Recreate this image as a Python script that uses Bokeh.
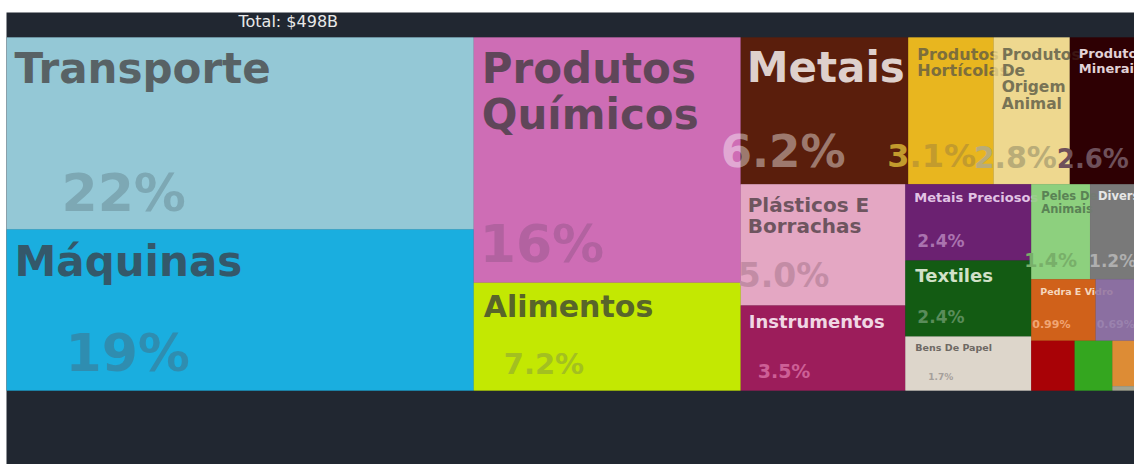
from bokeh.plotting import figure
from bokeh.models import Range1d
from bokeh.core.properties import value
from bokeh.embed import file_html
from bokeh.resources import INLINE

# ---------------- data ----------------
categories = ["Transporte", "Máquinas", "Produtos Químicos", "Alimentos", "Metais",
              "Produtos Hortícolas", "Produtos De Origem Animal", "Produtos Minerais",
              "Plásticos E Borrachas", "Instrumentos", "Metais Preciosos", "Textiles",
              "Bens De Papel", "Peles De Animais", "Diversos", "Pedra E Vidro",
              "Armas", "Produtos De Madeira", "Calçados E Chapéus",
              "Óleos Animais E Vegetais", "Arte E Antiguidades"]
shares = [22.45, 18.85, 16.4, 7.2, 6.16, 3.14, 2.8, 2.6, 5.0, 3.5, 2.4, 2.4, 1.7,
          1.4, 1.2, 0.99, 0.69, 0.54, 0.47, 0.32, 0.03]
total_label = "Total: $498B"

# ---------------- styles ----------------
BG = "#212731"
tile_colors = ["#94C8D6", "#1BAEDF", "#CE6DB4", "#C3E802", "#5A1E0C", "#E8B620",
               "#EED88F", "#2E0004", "#E4A7C3", "#9C1D5B", "#6B2171", "#135B14",
               "#DDD6CB", "#8DCF7E", "#797979", "#D0611B", "#8B6FA1", "#A80306",
               "#35A620", "#DD8C36", "#A3A38F"]

# nesting of the squarified layout (indices into categories)
TREE = ("h", [("v", [0, 1]), ("v", [2, 3]),
              ("v", [("h", [4, 5, 6, 7]),
                     ("h", [("v", [8, 9]), ("v", [10, 11, 12]),
                            ("v", [("h", [13, 14]), ("h", [15, 16]),
                                   ("h", [17, 18, ("v", [19, 20])])])])])])

# label style per tile: sizes (px), offsets from tile top-left to the baseline (px), colours
STYLE = {
    0: dict(ls=42, ldx=8, ldy=47, lc="#586265", ps=52, pdx=55, pdy=175, pc="#7DA8B4"),
    1: dict(ls=42, ldx=8, ldy=48, lc="#34586A", ps=52, pdx=59, pdy=143, pc="#2F8DB0"),
    2: dict(ls=42, ldx=8, ldy=47, lh=46, wrap=[1, 1], lc="#5F4659", ps=52, pdx=6, pdy=226, pc="#B262A0"),
    3: dict(ls=30, ldx=10, ldy=35, lc="#58652A", ps=29, pdx=30, pdy=92, pc="#A3C020"),
    4: dict(ls=42, ldx=6, ldy=46, lc="#DED0CC", ps=45, pdx=-20, pdy=131, pc="#FFFFFF", pa=0.42),
    5: dict(ls=16, ldx=9, ldy=23, lh=16, wrap=[1, 1], lc="#7D6E3C", ps=32, pdx=-21, pdy=131, pc="#C39B2D"),
    6: dict(ls=15.5, ldx=8, ldy=23, lh=16.3, wrap=[1, 1, 1, 1], lc="#787355", ps=30, pdx=-20, pdy=131, pc="#B9AC78"),
    7: dict(ls=13, ldx=9, ldy=21, lh=14.5, wrap=[1, 1], lc="#E1D2D7", ps=26, pdx=-13, pdy=131, pc="#6E505A"),
    8: dict(ls=20, ldx=7, ldy=28, lh=21, wrap=[2, 1], lc="#6E555F", ps=33, pdx=-3, pdy=104, pc="#C38CA5"),
    9: dict(ls=18, ldx=8, ldy=23, lc="#F0D7E4", ps=19, pdx=17, pdy=73, pc="#CD5F96"),
    10: dict(ls=13, ldx=9, ldy=18, lc="#E1C3E4", ps=17, pdx=12, pdy=63, pc="#AA73AF"),
    11: dict(ls=18, ldx=10, ldy=22, lc="#D2E1C8", ps=17, pdx=12, pdy=63, pc="#5A8C5A"),
    12: dict(ls=9.5, ldx=10, ldy=15, lc="#6E6964", ps=9, pdx=23, pdy=44, pc="#A5A09B"),
    13: dict(ls=11.5, ldx=10, ldy=16, lh=13, wrap=[2, 1], lc="#5A8255", ps=19, pdx=-7, pdy=83, pc="#78AF69"),
    14: dict(ls=11.5, ldx=8, ldy=16, lc="#E6E6E6", ps=17, pdx=-1, pdy=83, pc="#AFAFAF"),
    15: dict(ls=9.5, ldx=9, ldy=16, lc="#F5D7BE", ps=11, pdx=1, pdy=49, pc="#F0A573"),
    16: dict(ps=11, pdx=1, pdy=49, pc="#9A82AE"),
}
BASE_FIX = 0.38   # renderer puts the alphabetic baseline this many em lower
OVERLAY_ALPHA = 0.82
FONT = value("DejaVu Sans")


def node_value(node):
    if isinstance(node, int):
        return shares[node]
    return sum(node_value(k) for k in node[1])


def layout(node, x0, y0, x1, y1, out):
    if isinstance(node, int):
        out[node] = (x0, y0, x1, y1)
        return
    orient, kids = node
    tot = sum(node_value(k) for k in kids)
    pos = x0 if orient == "h" else y1
    for k in kids:
        f = node_value(k) / tot
        if orient == "h":
            w = (x1 - x0) * f
            layout(k, pos, y0, pos + w, y1, out)
            pos += w
        else:
            h = (y1 - y0) * f
            layout(k, x0, pos - h, x1, pos, out)
            pos -= h


def fmt(v):
    if v >= 10:
        return f"{v:.0f}%"
    if v >= 1:
        return f"{v:.1f}%"
    return f"{v:.2f}%"


def wrap_lines(name, wrap):
    words = name.split(" ")
    if not wrap:
        return [name]
    lines, i = [], 0
    for n in wrap:
        lines.append(" ".join(words[i:i + n]))
        i += n
    if i < len(words):
        lines[-1] = lines[-1] + " " + " ".join(words[i:])
    return lines


rects = {}
layout(TREE, 0.0, 0.0, 1.0, 1.0, rects)

# geometry of the page: treemap is 1134 x 353 px, clipped at the window edge
W_PX, H_PX = 1128, 452
TM_W, TM_H = 1134.0, 353.0
TOP_BAND, BOTTOM_BAND = 25.0, 74.0

p = figure(width=W_PX, height=H_PX, output_backend="svg", toolbar_location=None,
           x_range=Range1d(0, W_PX / TM_W),
           y_range=Range1d(-BOTTOM_BAND / TM_H, 1 + TOP_BAND / TM_H),
           min_border=0, x_axis_location=None, y_axis_location=None,
           background_fill_color=BG, border_fill_color=BG, outline_line_color=None)
p.grid.visible = False
p.margin = (12, 0, 0, 6)

idx = list(range(len(categories)))
p.quad(left=[rects[i][0] for i in idx], right=[rects[i][2] for i in idx],
       bottom=[rects[i][1] for i in idx], top=[rects[i][3] for i in idx],
       fill_color=tile_colors, line_color=BG, line_alpha=0.12, line_width=1)

for i in idx:
    x0, y0, x1, y1 = rects[i]
    p.quad(left=[x0], right=[x1], bottom=[y0], top=[y1], fill_color=tile_colors[i],
           fill_alpha=OVERLAY_ALPHA, line_color=None)
    st = STYLE.get(i)
    if st is None:
        continue
    if "ls" in st:
        lines = wrap_lines(categories[i], st.get("wrap"))
        lh = st.get("lh", st["ls"] * 1.1)
        p.text(x=[x0] * len(lines), y=[y1] * len(lines), text=lines,
               x_offset=st["ldx"],
               y_offset=[st["ldy"] + k * lh - BASE_FIX * st["ls"] for k in range(len(lines))],
               text_font=FONT, text_font_style="bold",
               text_font_size=f"{st['ls']}px", text_color=st["lc"],
               text_align="left", text_baseline="alphabetic")
    p.text(x=[x0], y=[y1], text=[fmt(shares[i])], x_offset=st["pdx"],
           y_offset=st["pdy"] - BASE_FIX * st["ps"], text_font=FONT, text_font_style="bold",
           text_font_size=f"{st['ps']}px", text_color=st["pc"],
           text_alpha=st.get("pa", 1.0), text_align="left", text_baseline="alphabetic")

p.text(x=[0], y=[1], text=[total_label], x_offset=232, y_offset=-10 - BASE_FIX * 16,
       text_font=FONT, text_font_size="16px", text_color="#E8E8E8",
       text_align="left", text_baseline="alphabetic")

open("out.html", "w").write(file_html(p, INLINE))
